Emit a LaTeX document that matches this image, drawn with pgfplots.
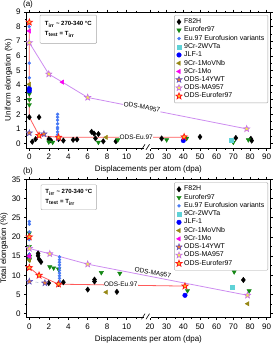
\documentclass[border=0pt]{standalone}
\usepackage{fontspec}
\setmainfont{Liberation Sans}
\usepackage{pgfplots}
\pgfplotsset{compat=1.18}
\definecolor{cEuro}{RGB}{20,135,20}
\definecolor{cVar}{RGB}{70,120,245}
\definecolor{cWVTa}{RGB}{95,210,215}
\definecolor{cJLF}{RGB}{0,0,255}
\definecolor{cVNb}{RGB}{150,135,20}
\definecolor{cMo}{RGB}{250,0,240}
\definecolor{cYWTe}{RGB}{90,80,200}
\definecolor{cYWTf}{RGB}{230,120,50}
\definecolor{cMAe}{RGB}{200,110,235}
\definecolor{cMAf}{RGB}{245,235,80}
\definecolor{cODSe}{RGB}{255,20,20}
\definecolor{cODSf}{RGB}{255,190,40}
\definecolor{lMA}{RGB}{205,140,240}
\definecolor{lODS}{RGB}{255,90,90}
\pgfdeclareplotmark{fstar}{%
  \pgfpathmoveto{\pgfpointpolar{90}{\pgfplotmarksize}}%
  \pgfpathlineto{\pgfpointpolar{126}{0.42\pgfplotmarksize}}%
  \pgfpathlineto{\pgfpointpolar{162}{\pgfplotmarksize}}%
  \pgfpathlineto{\pgfpointpolar{198}{0.42\pgfplotmarksize}}%
  \pgfpathlineto{\pgfpointpolar{234}{\pgfplotmarksize}}%
  \pgfpathlineto{\pgfpointpolar{270}{0.42\pgfplotmarksize}}%
  \pgfpathlineto{\pgfpointpolar{306}{\pgfplotmarksize}}%
  \pgfpathlineto{\pgfpointpolar{342}{0.42\pgfplotmarksize}}%
  \pgfpathlineto{\pgfpointpolar{18}{\pgfplotmarksize}}%
  \pgfpathlineto{\pgfpointpolar{54}{0.42\pgfplotmarksize}}%
  \pgfpathclose
  \pgfusepathqfillstroke
}
\pgfplotsset{
  myax/.style={
    scale only axis, width=243.3pt,
    xmin=-0.27, xmax=24.74,
    x filter/.expression={x<=12 ? x : 12.4+(x-20)*12/70},
    xtick={0,2,4,6,8,10,12.4,14.1143,15.8286,17.5429,19.2571,20.9714,22.6857,24.4},
    xticklabels={0,2,4,6,8,10,20,30,40,50,60,70,80,90},
    minor xtick={1,3,5,7,9,11,13.2571,14.9714,16.6857,18.4,20.1143,21.8286,23.5429},
    minor y tick num=1,
    tick align=outside,
    major tick length=2.5pt, minor tick length=1.5pt,
    tick style={black, line width=0.5pt},
    axis line style={line width=0.6pt},
    /pgf/number format/assume math mode=true,
    tick label style={font=\fontsize{8}{9}\selectfont},
    label style={font=\fontsize{8}{9}\selectfont},
    xlabel={Displacements per atom (dpa)},
    xlabel style={yshift=1pt},
    ylabel style={yshift=-3pt},
    legend cell align=left,
    legend style={font=\fontsize{7}{8}\selectfont, at={(0.9918,0.978)}, anchor=north east,
      draw=gray!70, rounded corners=1pt, row sep=-2.2pt, inner sep=1.5pt},
    s1/.style={only marks, mark=diamond*, mark size=2.7pt, mark options={fill=black, draw=black}},
    s2/.style={only marks, mark=triangle*, mark size=2.5pt, mark options={rotate=180, fill=cEuro, draw=cEuro}},
    s3/.style={only marks, mark=*, mark size=1.5pt, mark options={fill=cVar, draw=cVar}},
    s4/.style={only marks, mark=square*, mark size=2pt, mark options={fill=cWVTa, draw=cWVTa}},
    s5/.style={only marks, mark=*, mark size=2.3pt, mark options={fill=cJLF, draw=cJLF}},
    s6/.style={only marks, mark=triangle*, mark size=2.5pt, mark options={rotate=90, fill=cVNb, draw=cVNb}},
    s7/.style={only marks, mark=triangle*, mark size=2.5pt, mark options={rotate=90, fill=cMo, draw=cMo}},
    s8/.style={only marks, mark=fstar, mark size=3.3pt, mark options={fill=cYWTf, draw=cYWTe, line width=0.5pt}},
    s9/.style={only marks, mark=fstar, mark size=3.3pt, mark options={fill=cMAf, draw=cMAe, line width=0.6pt}},
    s10/.style={only marks, mark=fstar, mark size=3.3pt, mark options={fill=cODSf, draw=cODSe, line width=0.7pt}},
  }
}
\begin{document}
\begin{tikzpicture}
\path[use as bounding box] (0,0) rectangle (275pt,-343pt);
% ---------------- (a)
\begin{axis}[myax, at={(26.7pt,-148.3pt)}, anchor=south west, height=136.3pt,
  ymin=-0.33, ymax=9, ytick={0,1,...,9}, ylabel={Uniform elongation (\%)}]
\addplot[lMA, line width=0.8pt, forget plot] coordinates {(0,6.9)(2,4.75)(3.4,4.2)(6,3.15)(78,1.0)};
\addplot[lODS, line width=0.8pt, forget plot] coordinates {(0,8.3)(0,1.8)(1,0.55)(3,0.42)(40.5,0.42)};
\addplot[s1] coordinates {(0,1.8)(0.3,0.12)(0.65,0.3)(1.0,1.8)(2.0,0.3)(2.2,0.22)(3.0,0.3)(3.5,0.2)(4.5,0.25)(4.9,0.28)(6.4,0.8)(6.65,0.68)(7.1,0.65)(6.8,0.35)(7.6,0.15)(8.9,0.15)(27,0.34)(50,0.45)(71.5,0.38)(80.5,0.32)(81,0.2)};
\addlegendentry{F82H}
\addplot[s2] coordinates {(0,3.4)(0,3.0)(0,2.65)(2.0,0.1)(2.4,0.08)(7.1,0.08)(9.1,0.25)(30,0.25)(42,0.35)(70,0.08)(79,0.25)};
\addlegendentry{Eurofer97}
\addplot[s3] coordinates {(0,8.0)(0,5.5)(0,4.5)(0,3.9)(2.9,2.0)(2.9,1.8)(2.9,1.6)(2.9,1.35)(2.9,1.1)(2.9,1.0)(2.9,0.8)(2.9,0.6)(2.9,0.45)(2.9,0.3)};
\addlegendentry{Eu.97 Eurofusion variants}
\addplot[s4] coordinates {(68.5,0.22)};
\addlegendentry{9Cr-2WVTa}
\addplot[s5] coordinates {(0,3.75)(0,3.6)(40,0.2)};
\addlegendentry{JLF-1}
\addplot[s6] coordinates {(0,4.05)(7.9,0.42)};
\addlegendentry{9Cr-1MoVNb}
\addplot[s7] coordinates {(0,7.7)(3.4,4.2)};
\addlegendentry{9Cr-1Mo}
\addplot[s8] coordinates {(0,0.72)(1.5,0.65)};
\addlegendentry{ODS-14YWT}
\addplot[s9] coordinates {(0,6.9)(2.0,4.75)(6.0,3.15)(78,1.0)};
\addlegendentry{ODS-MA957}
\addplot[s10] coordinates {(0,8.3)(1.0,0.55)(3.0,0.42)(40.5,0.45)};
\addlegendentry{ODS-Eurofer97}
\node[font=\fontsize{6.5}{7}\selectfont, fill=white, inner sep=0.6pt, rotate=-10.1] at (axis cs:11.58,2.49) {ODS-MA957};
\node[font=\fontsize{6.5}{7}\selectfont, fill=white, inner sep=0.6pt] at (axis cs:10.98,0.42) {ODS-Eu.97};
\end{axis}
% ---------------- (b)
\begin{axis}[myax, at={(26.7pt,-317.7pt)}, anchor=south west, height=138.4pt,
  ymin=-1.03, ymax=35, ytick={0,5,...,35}, ylabel={Total elongation (\%)}]
\addplot[lMA, line width=0.8pt, forget plot] coordinates {(0,17)(2.1,15.6)(6,12.9)(78.5,4.8)};
\addplot[lODS, line width=0.8pt, forget plot] coordinates {(0,12)(1,10)(3,7.7)(41,7.2)};
\addplot[cVar!40!gray!60, dashed, line width=0.5pt, forget plot] coordinates {(0,8.4)(1.6,8.0)};
\addplot[s1] coordinates {(0,15.2)(0,14.5)(0.9,15.7)(0.9,15.1)(1.0,14.2)(1.2,13.5)(2.0,8.0)(3.0,7.8)(3.5,8.2)(6.0,6.3)(6.7,8.9)(6.7,8.4)(9.0,5.7)(76,8.8)};
\addlegendentry{F82H}
\addplot[s2] coordinates {(0,21)(0,17.5)(0,14.8)(0,14.0)(2.1,12.2)(2.5,11.9)(3.0,11.6)(7.4,10.7)(9.3,10.5)(42.5,6.0)(70.5,10.9)(79.5,5.95)};
\addlegendentry{Eurofer97}
\addplot[s3] coordinates {(0,24)(0,23.3)(0,21.3)(0,19.3)(0,15.5)(0,14.5)(3.1,14.8)(3.1,14.1)(3.1,13.4)(3.1,12.7)(3.1,12.0)(3.1,11.3)(3.1,10.6)(3.1,9.9)(3.1,9.2)(3.1,8.5)(3.1,7.9)};
\addlegendentry{Eu.97 Eurofusion variants}
\addplot[s4] coordinates {(69.5,6.8)};
\addlegendentry{9Cr-2WVTa}
\addplot[s5] coordinates {(41,4.8)};
\addlegendentry{JLF-1}
\addplot[s6] coordinates {(0,14)(7.9,5.6)(78.6,2.6)};
\addlegendentry{9Cr-1MoVNb}
\addplot[s7] coordinates {(0,15)};
\addlegendentry{9Cr-1Mo}
\addplot[s8] coordinates {(0,8.4)(1.6,8.0)};
\addlegendentry{ODS-14YWT}
\addplot[s9] coordinates {(0,17.0)(2.1,15.6)(6.0,12.9)(78.5,4.8)};
\addlegendentry{ODS-MA957}
\addplot[s10] coordinates {(0,20.0)(0,12.0)(1.0,10.0)(3.0,7.7)(41,7.2)};
\addlegendentry{ODS-Eurofer97}
\node[font=\fontsize{6.5}{7}\selectfont, fill=white, inner sep=0.6pt, rotate=-10.2] at (axis cs:12.7,10.7) {ODS-MA957};
\node[font=\fontsize{6.5}{7}\selectfont, fill=white, inner sep=0.6pt] at (axis cs:9.4,7.55) {ODS-Eu.97};
\end{axis}
% annotations
\foreach \yb in {148.3,317.7}{
  \fill[white] (143.5pt,-\yb pt+0.6pt) rectangle (151pt,-\yb pt-0.6pt);
  \draw[line width=0.6pt] (141.5pt,-\yb pt-1.5pt) -- (145pt,-\yb pt+4pt);
  \draw[line width=0.6pt] (146pt,-\yb pt-1.5pt) -- (149.5pt,-\yb pt+4pt);
}
\node[draw=gray!70, rounded corners=1pt, minimum width=56.7pt, minimum height=28.3pt, align=left,
  font=\bfseries\fontsize{6}{10}\selectfont, inner sep=2pt] at (68.3pt,-29.2pt)
  {T\textsubscript{irr} \textasciitilde{} 270-340 °C\\T\textsubscript{test} = T\textsubscript{irr}};
\node[draw=gray!70, rounded corners=1pt, minimum width=55.7pt, minimum height=25pt, align=left,
  font=\bfseries\fontsize{6}{10}\selectfont, inner sep=2pt] at (68.8pt,-197.2pt)
  {T\textsubscript{irr} \textasciitilde{} 270-340 °C\\T\textsubscript{test} = T\textsubscript{irr}};
\node[font=\fontsize{8}{9}\selectfont, inner sep=0pt] at (28pt,-4pt) {(a)};
\node[font=\fontsize{8}{9}\selectfont, inner sep=0pt] at (28pt,-171pt) {(b)};
\end{tikzpicture}
\end{document}
